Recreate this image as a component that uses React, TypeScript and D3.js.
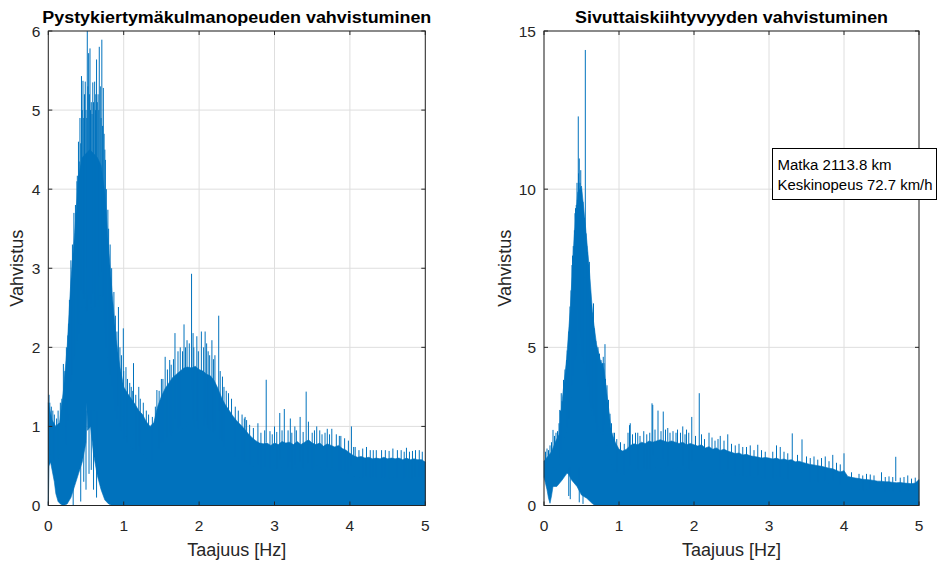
import React from 'react';
import * as d3 from 'd3';

// Frequency grid of the sampled body envelopes (Hz)
const FREQ: number[] = d3.range(0, 101).map((i) => +(i * 0.05).toFixed(2));

// Left chart: body (upper envelope) of the spectrum, at FREQ
const leftUpper: number[] = [
  1.30, 1.08, 1.00, 1.05, 1.45, 2.00, 2.85, 3.45, 4.15, 4.40,
  4.45, 4.50, 4.45, 4.40, 4.30, 3.95, 3.25, 2.65, 2.10, 1.75,
  1.50, 1.42, 1.35, 1.28, 1.20, 1.15, 1.06, 1.00, 1.05, 1.25,
  1.38, 1.48, 1.55, 1.62, 1.66, 1.70, 1.74, 1.75, 1.74, 1.76,
  1.72, 1.70, 1.66, 1.64, 1.58, 1.48, 1.36, 1.27, 1.20, 1.13,
  1.07, 1.02, 0.97, 0.91, 0.86, 0.82, 0.79, 0.78, 0.79, 0.76,
  0.79, 0.77, 0.81, 0.79, 0.80, 0.77, 0.81, 0.77, 0.80, 0.83,
  0.79, 0.77, 0.79, 0.75, 0.78, 0.76, 0.74, 0.76, 0.72, 0.70,
  0.66, 0.63, 0.61, 0.62, 0.60, 0.61, 0.59, 0.60, 0.59, 0.61,
  0.59, 0.60, 0.59, 0.60, 0.58, 0.60, 0.58, 0.59, 0.58, 0.58,
  0.55,
];

// Left chart: lower envelope [Hz, value]
const leftLower: [number, number][] = [
  [0, 0.0], [0.01, 0.5], [0.03, 0.55], [0.05, 0.45], [0.08, 0.3], [0.1, 0.15],
  [0.13, 0.05], [0.16, 0.02], [0.2, 0], [0.25, 0.02], [0.3, 0.1], [0.35, 0.25],
  [0.4, 0.4], [0.45, 0.55], [0.5, 0.8], [0.51, 1.3], [0.52, 0.95], [0.56, 1.0],
  [0.6, 0.65], [0.65, 0.38], [0.7, 0.2], [0.75, 0.07], [0.8, 0.02], [0.85, 0], [5, 0],
];

// Left chart: narrow peaks above the body [Hz, value]
const leftSpikes: [number, number][] = [
  [0.01, 1.4], [0.02, 1.3], [0.04, 1.25], [0.06, 1.2], [0.08, 1.15], [0.11, 1.1],
  [0.13, 1.2], [0.16, 1.3], [0.18, 1.35], [0.2, 1.79], [0.22, 1.7], [0.23, 1.55],
  [0.24, 2.0], [0.26, 2.15], [0.27, 2.3], [0.28, 2.6], [0.3, 3.1], [0.32, 3.3],
  [0.34, 3.7], [0.36, 3.8], [0.38, 4.1], [0.385, 4.17], [0.4, 4.6], [0.41, 4.35],
  [0.42, 4.9], [0.43, 4.58], [0.44, 5.43], [0.45, 5.0], [0.46, 5.37], [0.47, 4.9],
  [0.48, 5.2], [0.49, 5.36], [0.5, 5.0], [0.51, 4.9], [0.517, 6.0], [0.525, 5.3],
  [0.535, 5.72], [0.545, 5.2], [0.553, 5.78], [0.56, 5.0], [0.57, 5.1], [0.58, 4.95],
  [0.59, 5.35], [0.6, 5.1], [0.615, 5.36], [0.625, 5.0], [0.63, 5.2], [0.64, 5.64],
  [0.65, 5.1], [0.66, 5.2], [0.67, 5.0], [0.676, 5.8], [0.69, 5.3], [0.7, 4.9],
  [0.71, 5.89], [0.72, 4.8], [0.73, 5.28], [0.74, 4.7], [0.75, 4.5], [0.757, 4.37],
  [0.77, 4.0], [0.79, 3.74], [0.8, 3.5], [0.82, 3.3], [0.84, 3.0], [0.87, 2.7],
  [0.89, 2.4], [0.91, 2.2], [0.93, 2.51], [0.95, 2.0], [0.97, 1.9], [0.995, 2.24],
  [1.0, 1.7], [1.03, 1.75], [1.05, 1.6], [1.08, 1.55], [1.1, 1.5], [1.12, 1.45],
  [1.13, 1.8], [1.16, 1.4], [1.2, 1.5], [1.22, 1.35], [1.26, 1.3], [1.3, 1.2],
  [1.33, 1.15], [1.38, 1.12], [1.42, 1.25], [1.44, 1.46], [1.47, 1.45], [1.5, 1.6],
  [1.52, 1.6], [1.55, 1.88], [1.58, 1.72], [1.61, 1.84], [1.63, 1.78], [1.66, 1.85],
  [1.68, 2.18], [1.72, 1.95], [1.75, 2.0], [1.78, 1.95], [1.8, 2.29], [1.82, 2.0],
  [1.84, 2.09], [1.87, 2.05], [1.9, 2.93], [1.92, 2.18], [1.93, 2.0], [1.97, 2.14],
  [1.99, 1.95], [2.03, 2.2], [2.06, 2.0], [2.08, 2.2], [2.1, 2.05], [2.12, 1.95],
  [2.14, 1.9], [2.17, 2.09], [2.19, 1.85], [2.21, 1.9], [2.26, 2.4], [2.28, 1.7],
  [2.31, 1.63], [2.33, 1.5], [2.36, 1.45], [2.39, 1.42], [2.43, 1.35], [2.48, 1.25],
  [2.52, 1.2], [2.57, 1.15], [2.6, 1.1], [2.61, 1.12], [2.63, 1.08], [2.67, 1.02],
  [2.72, 0.98], [2.78, 1.04], [2.82, 0.92], [2.87, 0.95], [2.89, 1.59], [2.94, 0.94],
  [2.97, 0.9], [3.0, 1.0], [3.03, 0.93], [3.07, 1.17], [3.1, 0.95], [3.13, 1.22],
  [3.18, 0.95], [3.21, 1.1], [3.23, 0.92], [3.27, 1.0], [3.29, 0.95], [3.34, 1.12],
  [3.38, 0.93], [3.42, 1.44], [3.45, 1.06], [3.5, 0.92], [3.53, 0.95], [3.56, 1.0],
  [3.6, 0.95], [3.63, 0.9], [3.67, 0.92], [3.7, 0.97], [3.73, 0.9], [3.76, 0.97],
  [3.82, 0.9], [3.86, 0.88], [3.88, 0.88], [3.93, 0.85], [3.98, 0.82], [4.02, 1.0],
  [4.05, 0.74], [4.07, 0.74], [4.12, 0.7], [4.17, 0.72], [4.22, 0.74], [4.27, 0.7],
  [4.31, 0.7], [4.35, 0.7], [4.42, 0.7], [4.47, 0.7], [4.52, 0.69], [4.57, 0.72],
  [4.63, 0.7], [4.68, 0.7], [4.72, 0.68], [4.75, 0.73], [4.79, 0.68], [4.83, 0.69],
  [4.87, 0.7], [4.92, 0.7], [4.96, 0.68],
];

// Left chart: narrow drops below the lower envelope [Hz, value]
const leftDips: [number, number][] = [
  [0.33, 0.0], [0.43, 0.05], [0.47, 0.3], [0.5, 0.2], [0.54, 0.4], [0.57, 0.45], [0.6, 0.2], [0.64, 0.1],
];

// Right chart
const rightUpper: number[] = [
  1.40, 1.55, 1.70, 2.00, 2.25, 3.50, 4.60, 6.20, 8.40, 9.90,
  10.1, 8.90, 7.60, 6.00, 5.10, 4.60, 4.30, 3.30, 2.30, 2.00,
  1.78, 1.72, 1.78, 1.90, 1.95, 1.92, 2.00, 1.96, 2.04, 2.00,
  2.04, 2.08, 2.04, 2.00, 2.04, 2.00, 1.96, 2.00, 1.92, 1.96,
  1.92, 1.88, 1.92, 1.82, 1.86, 1.78, 1.82, 1.74, 1.78, 1.72,
  1.68, 1.64, 1.66, 1.60, 1.62, 1.57, 1.55, 1.53, 1.50, 1.52,
  1.50, 1.47, 1.50, 1.45, 1.47, 1.43, 1.45, 1.38, 1.40, 1.36,
  1.33, 1.30, 1.28, 1.26, 1.24, 1.21, 1.18, 1.16, 1.11, 1.06,
  1.10, 0.92, 0.89, 0.87, 0.85, 0.83, 0.82, 0.81, 0.79, 0.77,
  0.77, 0.75, 0.75, 0.73, 0.72, 0.73, 0.71, 0.70, 0.69, 0.71,
  0.82,
];

const rightLower: [number, number][] = [
  [0, 0.9], [0.01, 0.8], [0.04, 0.5], [0.06, 0.23], [0.08, 0.07], [0.1, 0.3],
  [0.12, 0.6], [0.17, 0.6], [0.24, 0.8], [0.3, 1.0], [0.32, 1.02], [0.37, 0.8],
  [0.44, 0.6], [0.5, 0.33], [0.57, 0.23], [0.64, 0.07], [0.68, 0], [5, 0],
];

const rightSpikes: [number, number][] = [
  [0.02, 1.7], [0.04, 1.8], [0.06, 1.75], [0.08, 1.9], [0.1, 2.0], [0.12, 2.39],
  [0.14, 2.2], [0.16, 2.3], [0.18, 2.35], [0.2, 2.6], [0.21, 3.02], [0.22, 3.0],
  [0.23, 3.55], [0.24, 3.3], [0.26, 3.97], [0.28, 4.3], [0.3, 4.6], [0.31, 4.9],
  [0.33, 5.5], [0.347, 6.29], [0.36, 6.8], [0.373, 7.6], [0.38, 7.9], [0.39, 8.2],
  [0.405, 8.7], [0.413, 9.24], [0.42, 9.4], [0.43, 9.5], [0.44, 10.2], [0.445, 9.66],
  [0.457, 12.3], [0.46, 10.5], [0.47, 10.97], [0.48, 10.2], [0.49, 10.6], [0.5, 10.0],
  [0.51, 9.4], [0.52, 9.6], [0.53, 9.0], [0.54, 9.1], [0.551, 14.4], [0.56, 8.6],
  [0.57, 8.2], [0.58, 8.0], [0.59, 7.5], [0.605, 7.7], [0.61, 6.5], [0.625, 6.0],
  [0.63, 6.2], [0.64, 5.7], [0.65, 6.1], [0.66, 6.39], [0.67, 5.6], [0.69, 5.2],
  [0.71, 4.6], [0.72, 5.0], [0.74, 4.8], [0.76, 4.6], [0.78, 4.5], [0.79, 4.7],
  [0.8, 4.5], [0.813, 5.1], [0.82, 4.0], [0.84, 3.8], [0.86, 3.34], [0.88, 2.9],
  [0.9, 2.6], [0.92, 2.3], [0.94, 2.3], [0.97, 2.1], [1.02, 2.0], [1.07, 1.95],
  [1.12, 2.3], [1.14, 2.54], [1.15, 2.6], [1.18, 2.25], [1.22, 2.3], [1.25, 2.3],
  [1.28, 2.2], [1.33, 2.35], [1.37, 2.25], [1.41, 2.3], [1.44, 3.23], [1.45, 3.18],
  [1.48, 2.4], [1.52, 3.0], [1.56, 2.35], [1.59, 2.97], [1.62, 2.4], [1.65, 2.45],
  [1.68, 2.3], [1.72, 2.35], [1.76, 2.3], [1.78, 2.4], [1.82, 2.3], [1.85, 2.5],
  [1.88, 2.25], [1.9, 2.4], [1.93, 2.3], [1.97, 2.8], [2.02, 2.2], [2.07, 3.55],
  [2.1, 2.25], [2.14, 2.1], [2.2, 2.3], [2.24, 2.15], [2.28, 2.05], [2.32, 2.1],
  [2.35, 2.2], [2.4, 2.05], [2.45, 2.25], [2.5, 1.95], [2.55, 1.9], [2.6, 1.95],
  [2.65, 1.85], [2.7, 1.85], [2.75, 1.9], [2.8, 1.75], [2.85, 1.92], [2.9, 1.75],
  [2.95, 1.7], [3.05, 1.7], [3.1, 1.9], [3.15, 1.85], [3.2, 1.7], [3.25, 1.65],
  [3.31, 2.28], [3.38, 1.6], [3.44, 2.09], [3.5, 1.55], [3.55, 1.5], [3.6, 1.55],
  [3.65, 1.45], [3.7, 1.5], [3.75, 1.55], [3.8, 1.4], [3.85, 1.6], [3.9, 1.35],
  [3.95, 1.3], [4.0, 1.65], [4.1, 1.05], [4.2, 1.0], [4.25, 0.95], [4.3, 1.0],
  [4.35, 0.98], [4.4, 0.95], [4.5, 1.05], [4.55, 0.9], [4.6, 0.92], [4.65, 0.9],
  [4.69, 1.54], [4.75, 0.88], [4.8, 0.9], [4.85, 0.95], [4.9, 0.85], [4.95, 0.88],
];

const rightDips: [number, number][] = [
  [0.33, 0.3], [0.35, 0.2], [0.47, 0.1], [0.52, 0.05],
];

const xTicks = [0, 1, 2, 3, 4, 5];
const leftYTicks = [0, 1, 2, 3, 4, 5, 6];
const rightYTicks = [0, 5, 10, 15];

const leftTitle = 'Pystykiertymäkulmanopeuden vahvistuminen';
const rightTitle = 'Sivuttaiskiihtyvyyden vahvistuminen';
const xLabel = 'Taajuus [Hz]';
const yLabel = 'Vahvistus';
const infoLines = ['Matka 2113.8 km', 'Keskinopeus 72.7 km/h'];

const BLUE = '#0072BD';
const AXIS = '#262626';
const GRID = '#dedede';
const FONT = "'Liberation Sans', Arial, Helvetica, sans-serif";

type PanelProps = {
  left: number;
  right: number;
  top: number;
  bottom: number;
  yMax: number;
  yTicks: number[];
  upper: number[];
  lower: [number, number][];
  spikes: [number, number][];
  dips: [number, number][];
  title: string;
  titleWidth: number;
  yLabelX: number;
};

function Panel(p: PanelProps) {
  const x = d3.scaleLinear().domain([0, 5]).range([p.left, p.right]);
  const y = d3.scaleLinear().domain([0, p.yMax]).range([p.bottom, p.top]);
  const line = d3.line<[number, number]>().x((d) => x(d[0])).y((d) => y(d[1]));
  const upPts: [number, number][] = FREQ.map((f, i) => [f, p.upper[i]]);
  const lowPts: [number, number][] = [...p.lower].reverse();
  const d = (line(upPts) || '') + 'L' + (line(lowPts) || '').slice(1) + 'Z';
  const tl = 4;
  const cx = (p.left + p.right) / 2;
  const cy = (p.top + p.bottom) / 2;
  return (
    <g>
      {xTicks.map((t) => (
        <line key={'gx' + t} x1={x(t)} x2={x(t)} y1={p.top} y2={p.bottom} stroke={GRID} strokeWidth={1} />
      ))}
      {p.yTicks.map((t) => (
        <line key={'gy' + t} x1={p.left} x2={p.right} y1={y(t)} y2={y(t)} stroke={GRID} strokeWidth={1} />
      ))}
      <path d={d} fill={BLUE} stroke={BLUE} strokeWidth={0.6} />
      {p.spikes.map(([f, v], i) => (
        <line key={'s' + i} x1={x(f)} x2={x(f)} y1={y(v)} y2={y(v / 2)} stroke={BLUE} strokeWidth={1} />
      ))}
      {p.dips.map(([f, v], i) => (
        <line key={'dp' + i} x1={x(f)} x2={x(f)} y1={y(v)} y2={y(1.2)} stroke={BLUE} strokeWidth={1} />
      ))}
      <rect x={p.left} y={p.top} width={p.right - p.left} height={p.bottom - p.top} fill="none" stroke={AXIS} strokeWidth={1} />
      {xTicks.map((t) => (
        <g key={'tx' + t}>
          <line x1={x(t)} x2={x(t)} y1={p.bottom} y2={p.bottom - tl} stroke={AXIS} />
          <line x1={x(t)} x2={x(t)} y1={p.top} y2={p.top + tl} stroke={AXIS} />
          <text x={x(t)} y={531} textAnchor="middle" fontSize={15.5} fill={AXIS} fontFamily={FONT}>{t}</text>
        </g>
      ))}
      {p.yTicks.map((t) => (
        <g key={'ty' + t}>
          <line x1={p.left} x2={p.left + tl} y1={y(t)} y2={y(t)} stroke={AXIS} />
          <line x1={p.right} x2={p.right - tl} y1={y(t)} y2={y(t)} stroke={AXIS} />
          <text x={p.left - 8} y={y(t) + 5.5} textAnchor="end" fontSize={15.5} fill={AXIS} fontFamily={FONT}>{t}</text>
        </g>
      ))}
      <text x={cx} y={22.5} textAnchor="middle" fontSize={16} fontWeight="bold" fill="#000" fontFamily={FONT}
        textLength={p.titleWidth} lengthAdjust="spacingAndGlyphs">{p.title}</text>
      <text x={cx} y={556} textAnchor="middle" fontSize={17.5} fill={AXIS} fontFamily={FONT}
        textLength={99} lengthAdjust="spacingAndGlyphs">{xLabel}</text>
      <text transform={`translate(${p.yLabelX},${cy}) rotate(-90)`} textAnchor="middle" fontSize={17.5} fill={AXIS}
        fontFamily={FONT} textLength={77} lengthAdjust="spacingAndGlyphs">{yLabel}</text>
    </g>
  );
}

export default function App() {
  return (
    <svg width={946} height={572} style={{ position: 'absolute', left: 0, top: 0, background: '#fff' }}>
      <rect x={0} y={0} width={946} height={572} fill="#fff" />
      <Panel left={48.3} right={425.3} top={31} bottom={505.5} yMax={6} yTicks={leftYTicks}
        upper={leftUpper} lower={leftLower} spikes={leftSpikes} dips={leftDips} title={leftTitle}
        titleWidth={389} yLabelX={23} />
      <Panel left={544} right={919} top={31} bottom={505.5} yMax={15} yTicks={rightYTicks}
        upper={rightUpper} lower={rightLower} spikes={rightSpikes} dips={rightDips} title={rightTitle}
        titleWidth={313} yLabelX={510.5} />
      <g>
        <rect x={772.5} y={148.5} width={164} height={51} fill="#fff" stroke="#000" strokeWidth={1} />
        <text x={777.5} y={170} fontSize={14} fill="#000" fontFamily={FONT} textLength={114} lengthAdjust="spacingAndGlyphs">{infoLines[0]}</text>
        <text x={777.5} y={190} fontSize={14} fill="#000" fontFamily={FONT} textLength={155} lengthAdjust="spacingAndGlyphs">{infoLines[1]}</text>
      </g>
    </svg>
  );
}
